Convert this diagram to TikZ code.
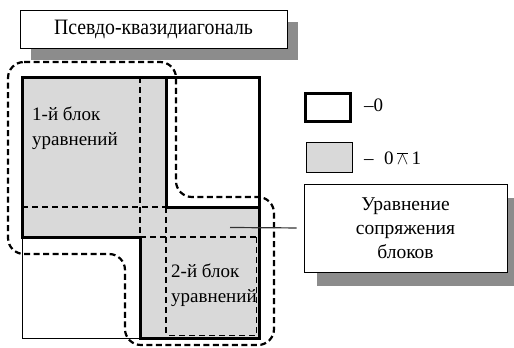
\documentclass[tikz,border=0pt]{standalone}
\usepackage{fontspec}
\setmainfont{Liberation Serif}
\newfontfamily\narrowserif[FakeStretch=0.9]{Liberation Serif}
\usetikzlibrary{shadows}
\begin{document}
\begin{tikzpicture}[x=1pt,y=-1pt,
  thickline/.style={line width=3pt},
  thinline/.style={line width=1pt},
  dashline/.style={line width=1.8pt, dash pattern=on 6pt off 4pt},
  contour/.style={line width=2.2pt, dash pattern=on 6pt off 3.5pt, rounded corners=16pt},
  shaded/.style={fill=black!15},
  shadowbox/.style={draw, line width=1pt, fill=white},
  txt/.style={font=\fontsize{19}{25}\selectfont, inner sep=0pt}
]
\useasboundingbox (0,0) rectangle (514,348);

% title box
\node[shadowbox, minimum width=267pt, minimum height=38pt,
      font=\narrowserif\fontsize{22}{25}\selectfont,
      drop shadow={shadow xshift=11pt, shadow yshift=-12pt, fill=black!45, opacity=1}]
      (title) at (153.5,29) {Псевдо-квазидиагональ};

% matrix fill
\fill[shaded] (22,77) rectangle (166,237);
\fill[shaded] (140,207) rectangle (259,338);

% thin borders
\draw[thinline] (22,237) -- (22,338) -- (140,338);

% dashed inner lines
\draw[dashline] (140,77) -- (140,237);
\draw[dashline] (22,207) -- (166,207);
\draw[dashline] (166,207) -- (166,338);
\draw[dashline] (140,237) -- (259,237);
\draw[dashline] (256.5,237) -- (256.5,335.5) -- (166,335.5);

% thick borders
\draw[thickline] (140,338) -- (140,237) -- (22,237) -- (22,77) -- (259,77) -- (259,338) -- cycle;
\draw[thickline] (166,77) -- (166,207) -- (259,207);

% pseudo-quasidiagonal contour
\draw[contour] (8,62) -- (176,62) -- (176,197) -- (274,197) -- (274,345) -- (125,345) -- (125,254) -- (8,254) -- cycle;

% block labels
\node[txt, anchor=north west, align=left] (b1) at (32,107) {1-й блок\\уравнений};
\node[txt, anchor=north west, align=left] (b2) at (171,264) {2-й блок\\уравнений};

% legend
\node[draw, line width=3pt, fill=white, minimum width=45pt, minimum height=28pt, inner sep=0pt] (leg0) at (328,107.5) {};
\node[txt, anchor=west] (leg0t) at (364,105) {–0};
\node[draw, line width=1pt, fill=black!15, minimum width=46pt, minimum height=30pt, inner sep=0pt] (leg1) at (329,157) {};
\node[txt, anchor=west] (leg1t) at (364,158) {–\;\;0\,$\overline{\wedge}$\,1};

% coupling box
\node[shadowbox, minimum width=203pt, minimum height=88pt, align=center,
      font=\fontsize{19.5}{24}\selectfont,
      drop shadow={shadow xshift=13pt, shadow yshift=-14pt, fill=black!45, opacity=1}]
      (coupling) at (405.5,228) {Уравнение\\сопряжения\\блоков};

\coordinate (tap) at (230,227.5);
\draw[line width=1.2pt, black!80, shorten >=7pt] (tap) -- (coupling.west);
\end{tikzpicture}
\end{document}
